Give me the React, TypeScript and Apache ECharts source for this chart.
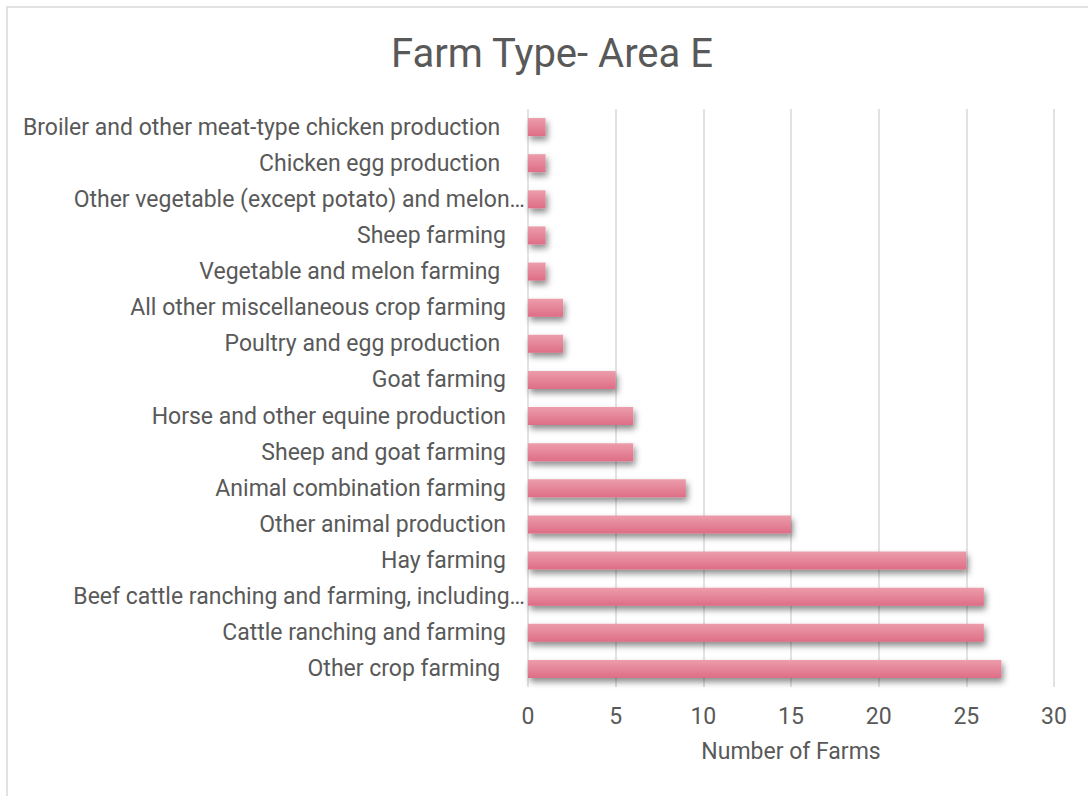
import React, { useEffect, useRef } from "react";
import * as echarts from "echarts";

const categories = [
  "Broiler and other meat-type chicken production ",
  "Chicken egg production ",
  "Other vegetable (except potato) and melon…",
  "Sheep farming",
  "Vegetable and melon farming ",
  "All other miscellaneous crop farming",
  "Poultry and egg production ",
  "Goat farming",
  "Horse and other equine production",
  "Sheep and goat farming",
  "Animal combination farming",
  "Other animal production",
  "Hay farming",
  "Beef cattle ranching and farming, including…",
  "Cattle ranching and farming",
  "Other crop farming ",
];
const farms = [1, 1, 1, 1, 1, 2, 2, 5, 6, 6, 9, 15, 25, 26, 26, 27];
const xTicks = [0, 30, 5];

export default function App() {
  const ref = useRef<HTMLDivElement>(null);
  useEffect(() => {
    const chart = echarts.init(ref.current!, null, { renderer: "svg" });
    const font = "Roboto, sans-serif";
    const labelStyle = { fontSize: 23, color: "#595959", fontFamily: font };
    chart.setOption({
      animation: false,
      backgroundColor: "#ffffff",
      title: {
        text: "Farm Type- Area E",
        left: 547,
        textAlign: "center",
        top: 28,
        textStyle: { fontSize: 40, fontWeight: "normal", color: "#595959", fontFamily: font },
      },
      graphic: [
        {
          type: "rect",
          shape: { x: 7, y: 7, width: 1200, height: 900 },
          style: { fill: "none", stroke: "#d9d9d9", lineWidth: 1.5 },
          silent: true,
        },
      ],
      grid: { left: 528, right: 34, top: 109, bottom: 109, containLabel: false },
      xAxis: {
        type: "value",
        min: xTicks[0],
        max: xTicks[1],
        interval: xTicks[2],
        name: "Number of Farms",
        nameLocation: "middle",
        nameGap: 53,
        nameTextStyle: { fontSize: 23, color: "#595959", fontFamily: font },
        axisLine: { show: false },
        axisTick: { show: false },
        axisLabel: { fontSize: 23, color: "#595959", margin: 18, fontFamily: font },
        splitLine: { lineStyle: { color: "#d9d9d9", width: 1.5 } },
      },
      yAxis: {
        type: "category",
        inverse: true,
        data: categories,
        axisLine: { show: false },
        axisTick: { show: false },
        axisLabel: {
          ...labelStyle,
          margin: 3,
          formatter: (v: string) => (v.endsWith("…") ? `{t|${v}}` : `{n|${v}}`),
          rich: {
            t: { ...labelStyle, padding: [0, 0, 0, 0] },
            n: { ...labelStyle, padding: [0, 19, 0, 0] },
          },
        },
      },
      series: [
        {
          type: "bar",
          data: farms,
          barWidth: 18,
          itemStyle: {
            color: new echarts.graphic.LinearGradient(0, 0, 0, 1, [
              { offset: 0, color: "#ec9dab" },
              { offset: 1, color: "#de6d86" },
            ]),
            shadowColor: "rgba(0,0,0,0.45)",
            shadowBlur: 6,
            shadowOffsetX: 2,
            shadowOffsetY: 4,
          },
        },
      ],
    });
    return () => chart.dispose();
  }, []);
  return (
    <div
      ref={ref}
      style={{ position: "fixed", left: 0, top: 0, width: 1088, height: 796 }}
    />
  );
}
